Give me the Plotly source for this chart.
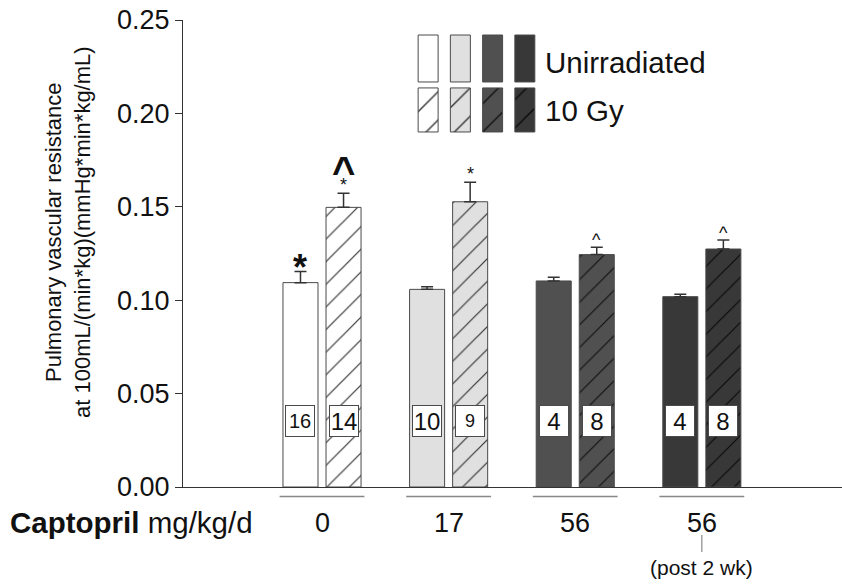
import plotly.graph_objects as go

# ---- data ----
groups = [1, 2, 3, 4]
group_labels = ["0", "17", "56", "56"]
unirr_vals = [0.1094, 0.1058, 0.1103, 0.1019]
unirr_err = [0.0059, 0.0014, 0.0020, 0.0013]
irr_vals = [0.1497, 0.1527, 0.1244, 0.1274]
irr_err = [0.0075, 0.0104, 0.0040, 0.0048]
unirr_n = ["16", "10", "4", "4"]
irr_n = ["14", "9", "8", "8"]
colors = ["#ffffff", "#e0e0e0", "#505050", "#383838"]
hatch_colors = ["#333333", "#333333", "#111111", "#0a0a0a"]
unirr_marks = ["*", "", "", ""]
irr_marks = ["^<br>*", "*", "^", "^"]

FONT = "Liberation Sans, Arial, sans-serif"
OUT = "#4a4a4a"

fig = go.Figure()

fig.add_trace(go.Bar(
    x=groups, y=unirr_vals, name="Unirradiated", offsetgroup="unirr",
    marker=dict(color=colors, line=dict(color=OUT, width=1)),
    error_y=dict(type="data", array=unirr_err, arrayminus=[0]*4, symmetric=False,
                 color="#333333", thickness=1.5, width=6),
    showlegend=False,
))
# hatched (10 Gy) bars: one trace per dose so each gets its own solid pattern colours
for g, v, e, c, hc in zip(groups, irr_vals, irr_err, colors, hatch_colors):
    fig.add_trace(go.Bar(
        x=[g], y=[v], name="10 Gy", offsetgroup="irr",
        marker=dict(color=c, line=dict(color=OUT, width=1),
                    pattern=dict(shape="/", fgcolor=hc, bgcolor=c, fgopacity=1,
                                 size=16, solidity=0.075)),
        error_y=dict(type="data", array=[e], arrayminus=[0], symmetric=False,
                     color="#333333", thickness=1.5, width=6),
        showlegend=False,
    ))

# ---- custom legend (second axes) ----
leg_x = [0, 1, 2, 3]
fig.add_trace(go.Bar(
    x=leg_x, y=[0.465]*4, base=[0.515]*4, width=0.62, offsetgroup="leg",
    marker=dict(color=colors, line=dict(color=OUT, width=1)),
    xaxis="x2", yaxis="y2", showlegend=False, hoverinfo="skip",
))
for lx, c, hc in zip(leg_x, colors, hatch_colors):
    fig.add_trace(go.Bar(
        x=[lx], y=[0.436], base=[0.02], width=0.62, offsetgroup="leg",
        marker=dict(color=c, line=dict(color=OUT, width=1),
                    pattern=dict(shape="/", fgcolor=hc, bgcolor=c, fgopacity=1,
                                 size=20, solidity=0.07)),
        xaxis="x2", yaxis="y2", showlegend=False, hoverinfo="skip",
    ))

annotations = []
shapes = []

# n labels in boxes
off = 0.17
for g, n1, n2 in zip(groups, unirr_n, irr_n):
    for xx, t in ((g - off, n1), (g + off, n2)):
        sz = 24
        if t == "16":
            sz = 20
        if t == "9":
            sz = 18
        annotations.append(dict(x=xx, y=0.0354, xref="x", yref="y", text=t, showarrow=False,
                                font=dict(family=FONT, size=sz, color="#111"),
                                bgcolor="white", bordercolor=OUT, borderwidth=1,
                                width=28, height=30, borderpad=0))

# significance marks
for g, v, e, m in zip(groups, unirr_vals, unirr_err, unirr_marks):
    if m:
        annotations.append(dict(x=g - off, y=v + e, xref="x", yref="y", text="<b>*</b>",
                                showarrow=False, yanchor="bottom", yshift=-18,
                                font=dict(family=FONT, size=36, color="#111")))
for g, v, e, m in zip(groups, irr_vals, irr_err, irr_marks):
    if m == "^<br>*":
        annotations.append(dict(x=g + off, y=v + e, xref="x", yref="y", text="*",
                                showarrow=False, yanchor="bottom", yshift=-4,
                                font=dict(family=FONT, size=18, color="#111")))
        annotations.append(dict(x=g + off, y=v + e, xref="x", yref="y", text="<b>^</b>",
                                showarrow=False, yanchor="bottom", yshift=-2,
                                font=dict(family=FONT, size=40, color="#111")))
    elif m:
        annotations.append(dict(x=g + off, y=v + e, xref="x", yref="y", text=m,
                                showarrow=False, yanchor="bottom", yshift=-4 if m == "*" else -5,
                                font=dict(family=FONT, size=18, color="#111")))

# group category labels & underlines
for g, lab in zip(groups, group_labels):
    annotations.append(dict(x=g, y=-0.077, xref="x", yref="paper", text=lab, showarrow=False,
                            yanchor="middle", font=dict(family=FONT, size=27, color="#111")))
    shapes.append(dict(type="line", xref="x", yref="paper", x0=g - 0.335, x1=g + 0.335,
                       y0=-0.0203, y1=-0.0203, line=dict(color="#888888", width=1.5)))

annotations.append(dict(x=-0.265, y=-0.077, xref="paper", yref="paper",
                        text="<b>Captopril</b> mg/kg/d", showarrow=False,
                        xanchor="left", yanchor="middle",
                        font=dict(family=FONT, size=29.5, color="#111")))
annotations.append(dict(x=groups[3], y=-0.1734, xref="x", yref="paper", text="(post 2 wk)",
                        showarrow=False, yanchor="middle",
                        font=dict(family=FONT, size=21, color="#111")))
shapes.append(dict(type="line", xref="x", yref="paper", x0=groups[3], x1=groups[3],
                   y0=-0.1028, y1=-0.139, line=dict(color="#888888", width=1.2)))

# legend text
annotations.append(dict(x=0.546, y=0.908, xref="paper", yref="paper", text="Unirradiated",
                        showarrow=False, xanchor="left", yanchor="middle",
                        font=dict(family=FONT, size=29.5, color="#111")))
annotations.append(dict(x=0.546, y=0.807, xref="paper", yref="paper", text="10 Gy",
                        showarrow=False, xanchor="left", yanchor="middle",
                        font=dict(family=FONT, size=29.5, color="#111")))

# y title
annotations.append(dict(x=-0.1745, y=0.546, xref="paper", yref="paper",
                        text="Pulmonary vascular resistance<br>at 100mL/(min*kg)(mmHg*min*kg/mL)",
                        showarrow=False, textangle=-90, xanchor="center", yanchor="middle",
                        font=dict(family=FONT, size=22, color="#111")))

fig.update_layout(
    width=842, height=585,
    margin=dict(l=183, r=0, t=20, b=98),
    paper_bgcolor="white", plot_bgcolor="white",
    barmode="group", bargap=0.32, bargroupgap=0.186,
    xaxis=dict(range=[-0.098, 5.107], showticklabels=False, ticks="", showgrid=False,
               zeroline=False, showline=True, linecolor="#333333", linewidth=1.2),
    yaxis=dict(range=[0, 0.25], tickvals=[0, 0.05, 0.10, 0.15, 0.20, 0.25],
               ticktext=["0.00", "0.05", "0.10", "0.15", "0.20", "0.25"],
               ticks="outside", ticklen=7, tickcolor="#333333", tickwidth=1.2,
               showgrid=False, zeroline=False, showline=True, linecolor="#333333", linewidth=1.2,
               tickfont=dict(family=FONT, size=27, color="#111")),
    xaxis2=dict(domain=[0.3475, 0.5432], range=[-0.5, 3.5], anchor="y2", visible=False),
    yaxis2=dict(domain=[0.7559, 0.9722], range=[0, 1], anchor="x2", visible=False),
    annotations=annotations,
    shapes=shapes,
)

# remove the default 8px page margin so the figure fills the window exactly
fig.write_html("out.html",
               config={"displayModeBar": False},
               post_script="document.body.style.margin='0';document.body.style.overflow='hidden';")
